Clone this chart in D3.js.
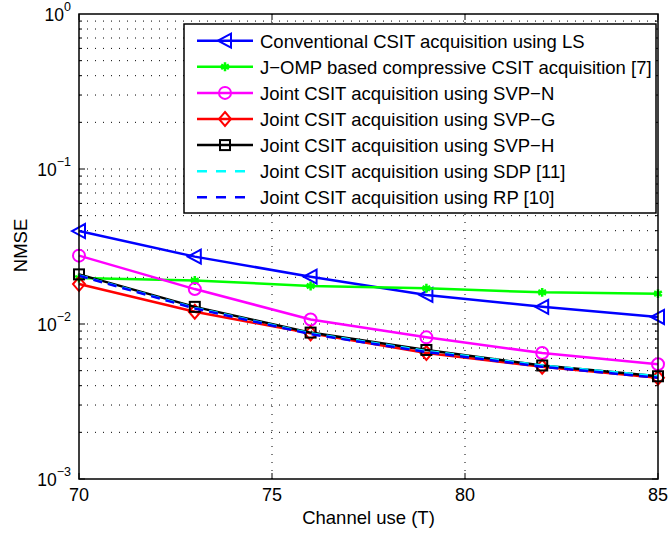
<!DOCTYPE html>
<html>
<head>
<meta charset="utf-8">
<script src="https://cdn.jsdelivr.net/npm/d3@7"></script>
<style>
  body { margin: 0; background: #fff; }
  text { font-family: "Liberation Sans", Arial, Helvetica, sans-serif; fill: #000; }
</style>
</head>
<body>
<div class="chart"></div>
<script>
// Channel use values on the x axis
var channelUse = [70, 73, 76, 79, 82, 85];
// NMSE of each scheme
var lsNmse   = [0.0398, 0.0272, 0.0202, 0.0154, 0.0129, 0.0111];
var jompNmse = [0.0198, 0.0191, 0.0176, 0.0170, 0.0160, 0.0157];
var svpN     = [0.0276, 0.0168, 0.0107, 0.0082, 0.0065, 0.0055];
var svpG     = [0.0181, 0.0120, 0.0087, 0.0065, 0.0053, 0.0045];
var svpH     = [0.0209, 0.0129, 0.0088, 0.0068, 0.0054, 0.0046];
var sdpNmse  = [0.0206, 0.0127, 0.0087, 0.0067, 0.0054, 0.0046];
var rpNmse   = [0.0205, 0.0126, 0.0086, 0.0066, 0.0053, 0.0045];
var legendNames = ["Conventional CSIT acquisition using LS",
                   "J\u2212OMP based compressive CSIT acquisition [7]",
                   "Joint CSIT acquisition using SVP\u2212N",
                   "Joint CSIT acquisition using SVP\u2212G",
                   "Joint CSIT acquisition using SVP\u2212H",
                   "Joint CSIT acquisition using SDP [11]",
                   "Joint CSIT acquisition using RP [10]"];
var xTicks = [70, 75, 80, 85];
var yTicks = [1e-3, 1e-2, 1e-1, 1];

var series = [
  {name: legendNames[0], values: lsNmse,   color: "#0000ff", marker: "tri",  dash: null},
  {name: legendNames[1], values: jompNmse, color: "#00ff00", marker: "star", dash: null},
  {name: legendNames[2], values: svpN,     color: "#ff00ff", marker: "circ", dash: null},
  {name: legendNames[3], values: svpG,     color: "#ff0000", marker: "diam", dash: null},
  {name: legendNames[4], values: svpH,     color: "#000000", marker: "sq",   dash: null},
  {name: legendNames[5], values: sdpNmse,  color: "#00ffff", marker: null,   dash: "9,6"},
  {name: legendNames[6], values: rpNmse,   color: "#0000ff", marker: null,   dash: "9,6"}
];

var width = 668, height = 534;
var padding = {left: 79, right: 10, top: 14, bottom: 55};

var svg = d3.select(".chart").append("svg")
  .attr("width", width).attr("height", height);

var xScale = d3.scaleLinear().domain([70, 85]).range([padding.left, width - padding.right]);
var yScale = d3.scaleLog().domain([1e-3, 1]).range([height - padding.bottom, padding.top]);

var x0 = xScale.range()[0], x1 = xScale.range()[1];
var y0 = yScale.range()[0], y1 = yScale.range()[1];

// Dotted grid: every minor decade step on y, major ticks on x
var minor = [];
for (var e = -3; e < 0; e++) {
  for (var k = 1; k < 10; k++) minor.push(k * Math.pow(10, e));
}
svg.append("g").selectAll("line").data(minor.filter(function(d){ return d > 1e-3; }))
  .enter().append("line")
  .attr("x1", x0).attr("x2", x1)
  .attr("y1", function(d){ return yScale(d); })
  .attr("y2", function(d){ return yScale(d); })
  .attr("stroke", "#000").attr("stroke-width", 1)
  .attr("stroke-dasharray", "1,7");
svg.append("g").selectAll("line").data(xTicks.slice(1, -1))
  .enter().append("line")
  .attr("x1", function(d){ return xScale(d); })
  .attr("x2", function(d){ return xScale(d); })
  .attr("y1", y0).attr("y2", y1)
  .attr("stroke", "#000").attr("stroke-width", 1)
  .attr("stroke-dasharray", "1,7");

// Inward ticks on all four sides
var tickG = svg.append("g").attr("stroke", "#000").attr("stroke-width", 1);
minor.forEach(function(d){
  var major = Math.abs(Math.log10(d) - Math.round(Math.log10(d))) < 1e-9;
  var len = major ? 6 : 3;
  var y = yScale(d);
  tickG.append("line").attr("x1", x0).attr("x2", x0 + len).attr("y1", y).attr("y2", y);
  tickG.append("line").attr("x1", x1).attr("x2", x1 - len).attr("y1", y).attr("y2", y);
});
xTicks.forEach(function(d){
  var x = xScale(d);
  tickG.append("line").attr("x1", x).attr("x2", x).attr("y1", y0).attr("y2", y0 - 6);
  tickG.append("line").attr("x1", x).attr("x2", x).attr("y1", y1).attr("y2", y1 + 6);
});

// Data lines
var line = d3.line()
  .x(function(d, i){ return xScale(channelUse[i]); })
  .y(function(d){ return yScale(d); });

function drawMarker(g, type, color, x, y) {
  if (type == "tri") {
    g.append("path").attr("d", "M" + (x - 7) + "," + y + "L" + (x + 6) + "," + (y - 7) + "L" + (x + 6) + "," + (y + 7) + "Z")
      .attr("fill", "none").attr("stroke", color).attr("stroke-width", 2);
  } else if (type == "star") {
    g.append("path").attr("d", d3.symbol().type(d3.symbolAsterisk).size(55)())
      .attr("transform", "translate(" + x + "," + y + ")")
      .attr("fill", "none").attr("stroke", color).attr("stroke-width", 2.5);
  } else if (type == "circ") {
    g.append("circle").attr("cx", x).attr("cy", y).attr("r", 6)
      .attr("fill", "none").attr("stroke", color).attr("stroke-width", 2);
  } else if (type == "diam") {
    g.append("path").attr("d", "M" + x + "," + (y - 7) + "L" + (x + 6) + "," + y + "L" + x + "," + (y + 7) + "L" + (x - 6) + "," + y + "Z")
      .attr("fill", "none").attr("stroke", color).attr("stroke-width", 2);
  } else if (type == "sq") {
    g.append("rect").attr("x", x - 5).attr("y", y - 5).attr("width", 10).attr("height", 10)
      .attr("fill", "none").attr("stroke", color).attr("stroke-width", 2);
  }
}

series.forEach(function(s){
  var g = svg.append("g");
  g.append("path").datum(s.values)
    .attr("d", line)
    .attr("fill", "none")
    .attr("stroke", s.color)
    .attr("stroke-width", 2.5)
    .attr("stroke-dasharray", s.dash);
  if (s.marker) {
    s.values.forEach(function(d, i){
      drawMarker(g, s.marker, s.color, xScale(channelUse[i]), yScale(d));
    });
  }
});

// Axes box
svg.append("rect")
  .attr("x", x0).attr("y", y1)
  .attr("width", x1 - x0).attr("height", y0 - y1)
  .attr("fill", "none").attr("stroke", "#000").attr("stroke-width", 1.5);

// Tick labels
svg.append("g").selectAll("text").data(xTicks).enter().append("text")
  .attr("x", function(d){ return xScale(d); })
  .attr("y", y0 + 22)
  .attr("text-anchor", "middle")
  .attr("font-size", 18)
  .text(function(d){ return d; });

var yl = svg.append("g").selectAll("text").data(yTicks).enter().append("text")
  .attr("x", x0 - 8)
  .attr("y", function(d){ return yScale(d) + 7; })
  .attr("text-anchor", "end")
  .attr("font-size", 17.5);
yl.append("tspan").text("10");
yl.append("tspan").attr("dy", -10).attr("font-size", 12.5)
  .text(function(d){ var p = Math.round(Math.log10(d)); return p < 0 ? "\u2212" + (-p) : p; });

// Axis titles
svg.append("text")
  .attr("x", (x0 + x1) / 2).attr("y", 524)
  .attr("text-anchor", "middle").attr("font-size", 18.5)
  .text("Channel use (T)");
svg.append("text")
  .attr("transform", "translate(27," + ((y0 + y1) / 2 - 1) + ") rotate(-90)")
  .attr("text-anchor", "middle").attr("font-size", 18.5)
  .text("NMSE");

// Legend
var lg = svg.append("g");
lg.append("rect")
  .attr("x", 184).attr("y", 24).attr("width", 472).attr("height", 189)
  .attr("fill", "#fff").attr("stroke", "#000").attr("stroke-width", 1.5);
series.forEach(function(s, i){
  var y = 40.7 + i * 26.1;
  lg.append("line").attr("x1", 197).attr("x2", 253).attr("y1", y).attr("y2", y)
    .attr("stroke", s.color).attr("stroke-width", 2.5)
    .attr("stroke-dasharray", s.dash ? "10,9" : null);
  if (s.marker) drawMarker(lg, s.marker, s.color, 225, y);
  lg.append("text").attr("x", 260).attr("y", y + 7)
    .attr("font-size", 18.5)
    .text(s.name);
});
</script>
</body>
</html>
